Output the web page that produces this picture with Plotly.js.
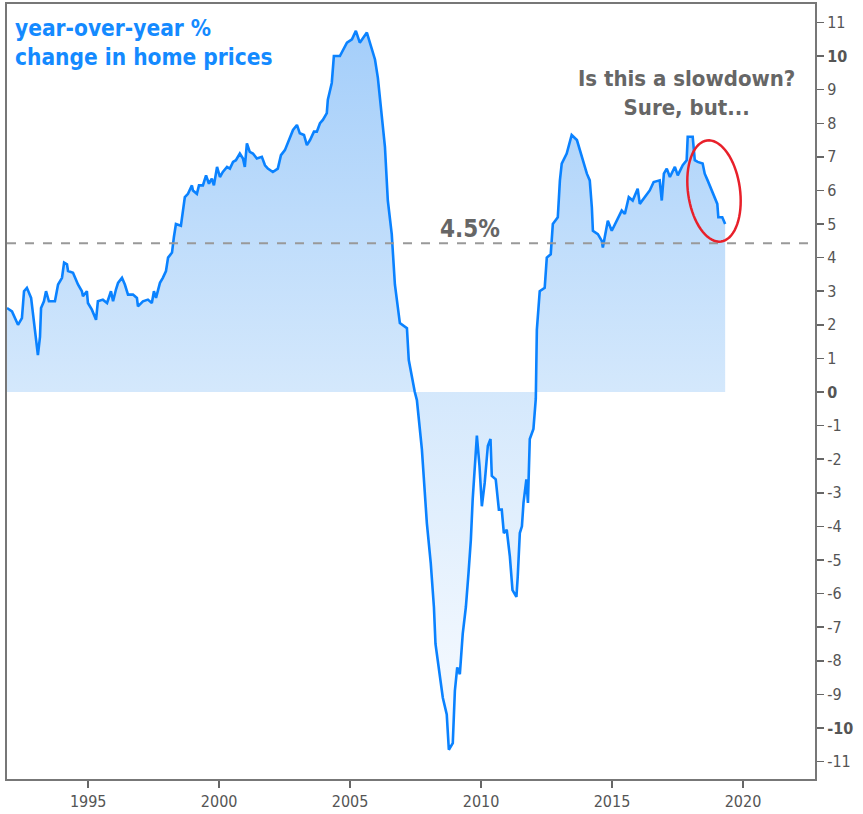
<!DOCTYPE html>
<html>
<head>
<meta charset="utf-8">
<script src="https://cdn.plot.ly/plotly-3.0.1.min.js"></script>
<style>html,body{margin:0;padding:0;background:#fff;}#chart{width:863px;height:814px;}</style>
</head>
<body>
<div id="chart"></div>
<script>
// Year (decimal) of each reading
const years = [
 1991.90,1992.09,1992.32,1992.47,1992.55,1992.66,1992.82,1992.89,1993.01,1993.08,1993.16,1993.20,
 1993.31,1993.39,1993.50,1993.73,1993.85,1994.00,1994.08,1994.19,1994.23,1994.42,1994.61,1994.76,
 1994.80,1994.95,1994.99,1995.14,1995.30,1995.37,1995.56,1995.72,1995.87,1995.95,1996.06,1996.14,
 1996.29,1996.40,1996.52,1996.71,1996.86,1996.90,1997.09,1997.28,1997.43,1997.51,1997.59,1997.66,
 1997.74,1997.85,1997.97,1998.05,1998.20,1998.27,
 1998.35,1998.54,1998.62,1998.69,1998.81,1998.96,1999.00,1999.15,1999.23,1999.38,1999.50,1999.61,
 1999.72,1999.80,1999.92,2000.03,2000.14,2000.30,2000.41,2000.53,2000.64,2000.79,2000.91,2000.98,
 2001.06,2001.17,2001.29,2001.44,2001.63,2001.75,2001.86,2002.05,2002.24,2002.36,2002.51,2002.63,
 2002.82,2002.97,2003.08,2003.24,2003.35,2003.47,2003.62,2003.73,2003.85,2003.96,2004.11,2004.15,
 2004.30,2004.38,2004.61,2004.88,2005.07,2005.22,2005.37,2005.64,2005.75,2005.95,2006.06,2006.17,
 2006.33,2006.44,2006.59,2006.71,2006.90,2007.17,2007.24,2007.47,
 2007.55,2007.74,2007.82,2007.93,2008.08,2008.20,2008.26,2008.39,2008.54,2008.69,2008.77,2008.92,
 2009.00,2009.09,2009.19,2009.30,2009.42,2009.52,2009.61,2009.68,2009.76,2009.84,2009.94,2010.03,
 2010.14,2010.26,2010.36,2010.41,2010.56,2010.68,2010.79,2010.87,2010.98,2011.10,2011.20,2011.35,
 2011.40,2011.48,2011.56,2011.62,2011.73,2011.79,2011.86,2012.00,2012.09,
 2012.13,2012.24,2012.43,2012.51,2012.66,2012.74,2012.93,2013.01,2013.08,2013.27,2013.46,2013.66,
 2013.85,2014.04,2014.15,2014.23,2014.27,2014.46,2014.61,2014.65,2014.72,2014.84,2014.99,2015.18,
 2015.37,2015.49,2015.64,2015.79,2015.98,2016.06,2016.25,2016.44,2016.59,2016.82,2016.90,2016.98,
 2017.09,2017.21,2017.40,2017.51,2017.70,2017.85,2017.89,2018.08,2018.16,2018.27,2018.46,2018.54,
 2018.65,2018.81,2018.92,2019.02,2019.06,2019.21,2019.32
];
// Year-over-year % change in home prices
const yoyChange = [
 2.5,2.4,2.0,2.2,3.0,3.1,2.8,2.35,1.65,1.1,1.65,2.5,
 2.7,3.0,2.7,2.7,3.2,3.4,3.85,3.8,3.6,3.55,3.2,3.0,
 2.85,3.0,2.65,2.45,2.15,2.7,2.75,2.65,3.0,2.7,3.05,3.25,
 3.4,3.2,2.9,2.9,2.8,2.55,2.7,2.75,2.65,3.0,2.8,3.0,
 3.25,3.4,3.6,4.0,4.15,4.6,
 5.0,4.95,5.5,5.8,5.9,6.15,6.0,5.9,6.15,6.15,6.45,6.2,
 6.35,6.15,6.7,6.4,6.55,6.7,6.65,6.85,6.9,7.1,6.95,6.7,
 7.4,7.15,7.1,6.95,7.0,6.75,6.65,6.55,6.65,7.05,7.2,7.45,
 7.8,7.95,7.7,7.65,7.35,7.5,7.75,7.75,8.0,8.1,8.3,8.7,
 9.2,10.0,10.0,10.4,10.5,10.75,10.4,10.7,10.4,9.9,9.35,8.5,
 7.3,5.7,4.7,3.2,2.05,1.9,0.95,0.0,
 -0.24,-1.7,-2.7,-3.9,-5.1,-6.4,-7.5,-8.2,-9.1,-9.6,-10.65,-10.45,
 -8.9,-8.2,-8.4,-7.2,-6.4,-5.4,-4.4,-3.2,-2.3,-1.3,-2.2,-3.4,
 -2.7,-1.6,-1.4,-2.5,-2.6,-3.5,-3.5,-4.2,-4.1,-4.9,-5.9,-6.1,
 -5.5,-4.2,-4.0,-3.3,-2.6,-3.3,-1.4,-1.1,-0.2,
 1.85,3.0,3.1,4.0,4.1,5.0,5.2,6.3,6.8,7.1,7.65,7.5,
 7.0,6.5,6.3,5.5,4.8,4.7,4.5,4.3,4.6,5.1,4.8,5.1,
 5.4,5.3,5.8,5.7,6.05,5.6,5.8,6.0,6.25,6.3,5.7,6.5,
 6.65,6.4,6.7,6.45,6.75,6.9,7.6,7.6,6.9,6.85,6.8,6.5,
 6.3,6.0,5.8,5.6,5.2,5.2,5.0
];
const xTickVals = [1995, 2000, 2005, 2010, 2015, 2020];
const xTickText = ['1995', '2000', '2005', '2010', '2015', '2020'];
const yTickVals = [-11,-10,-9,-8,-7,-6,-5,-4,-3,-2,-1,0,1,2,3,4,5,6,7,8,9,10,11];
const yTickText = ['-11','<b>-10</b>','-9','-8','-7','-6','-5','-4','-3','-2','-1','<b>0</b>','1','2','3','4','5','6','7','8','9','<b>10</b>','11'];
const referenceLevel = 4.43;
const referenceLabel = '4.5%';

const W = 863, H = 814;
const margin = {l: 7, r: 48, t: 4, b: 35};
const xRange = [1991.9, 2022.75];
const yRange = [-11.52, 11.55];

// convert pixel coordinates to data (for the hand-drawn ellipse annotation)
const pw = W - margin.l - margin.r, ph = H - margin.t - margin.b;
function px2x(px) { return xRange[0] + (px - margin.l) / pw * (xRange[1] - xRange[0]); }
function py2y(py) { return yRange[1] - (py - margin.t) / ph * (yRange[1] - yRange[0]); }
function ellipsePath(cx, cy, a, b, rotDeg) {
  const r = rotDeg * Math.PI / 180;
  let d = '';
  for (let i = 0; i <= 72; i++) {
    const t = i / 72 * 2 * Math.PI;
    const ex = b * Math.cos(t), ey = a * Math.sin(t);
    const X = cx + ex * Math.cos(r) - ey * Math.sin(r);
    const Y = cy + ex * Math.sin(r) + ey * Math.cos(r);
    d += (i === 0 ? 'M' : 'L') + px2x(X).toFixed(4) + ',' + py2y(Y).toFixed(4);
  }
  return d + 'Z';
}

const FONT = '"DejaVu Sans Condensed", "DejaVu Sans", Tahoma, sans-serif';

const trace = {
  x: years, y: yoyChange, type: 'scatter', mode: 'lines',
  line: {color: 'rgb(10,130,255)', width: 2.6},
  fill: 'tozeroy',
  fillgradient: {type: 'vertical', start: -10.7, stop: 10.8,
    colorscale: [[0, 'rgb(250,252,255)'], [0.5, 'rgb(212,232,252)'], [1, 'rgb(164,206,250)']]},
  hoverinfo: 'skip'
};

const layout = {
  width: W, height: H, margin: margin,
  paper_bgcolor: '#fff', plot_bgcolor: '#fff',
  showlegend: false,
  font: {family: FONT, color: '#555'},
  xaxis: {range: xRange, tickvals: xTickVals, ticktext: xTickText, ticks: 'outside', ticklen: 7,
    tickcolor: '#666', tickwidth: 1.5, showgrid: false, zeroline: false, showline: true, mirror: true,
    linecolor: '#777', linewidth: 2, tickfont: {family: FONT, size: 16, color: '#555'}},
  yaxis: {range: yRange, side: 'right', tickvals: yTickVals, ticktext: yTickText, ticks: 'outside', ticklen: 7,
    tickcolor: '#666', tickwidth: 1.5, showgrid: false, zeroline: false, showline: true, mirror: true,
    linecolor: '#777', linewidth: 2, tickfont: {family: FONT, size: 16, color: '#555'}},
  shapes: [
    {type: 'line', xref: 'paper', x0: 0, x1: 1, yref: 'y', y0: referenceLevel, y1: referenceLevel,
     line: {color: '#999', width: 2, dash: 'dash'}, layer: 'above'},
    {type: 'path', xref: 'x', yref: 'y', path: ellipsePath(714, 191, 51, 26, -8),
     line: {color: '#e8202a', width: 2.5}}
  ],
  annotations: [
    {xref: 'paper', yref: 'paper', x: 0.007, y: 0.988, xanchor: 'left', yanchor: 'top', align: 'left',
     text: '<b>year-over-year %<br>change in home prices</b>', showarrow: false,
     font: {family: FONT, size: 22.5, color: 'rgb(20,138,255)'}},
    {xref: 'x', yref: 'y', x: px2x(686), y: py2y(93), xanchor: 'center', yanchor: 'middle', align: 'center',
     text: '<b>Is this a slowdown?<br>Sure, but...</b>', showarrow: false,
     font: {family: FONT, size: 22, color: '#666'}},
    {xref: 'x', yref: 'y', x: px2x(470), y: py2y(229), xanchor: 'center', yanchor: 'middle',
     text: '<b>' + referenceLabel + '</b>', showarrow: false,
     font: {family: FONT, size: 24, color: '#666'}}
  ]
};

Plotly.newPlot('chart', [trace], layout, {displayModeBar: false, staticPlot: true});
</script>
</body>
</html>
